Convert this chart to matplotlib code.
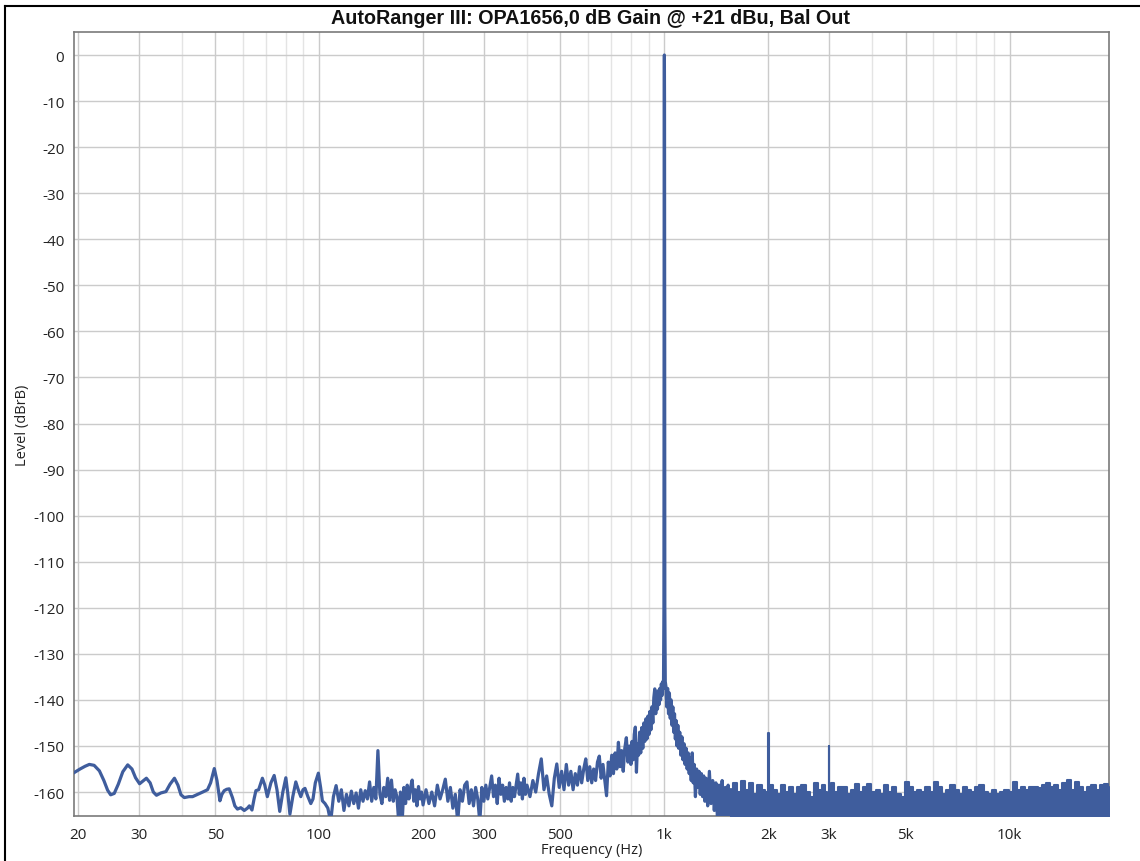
import matplotlib
matplotlib.use("Agg")
import matplotlib.pyplot as plt
from matplotlib.lines import Line2D
import numpy as np

plt.rcParams['font.family'] = ['Open Sans', 'DejaVu Sans']
plt.rcParams['axes.unicode_minus'] = False

TITLE = "AutoRanger III: OPA1656,0 dB Gain @ +21 dBu, Bal Out"
XLABEL = "Frequency (Hz)"
YLABEL = "Level (dBrB)"

x_ticks = [20, 30, 50, 100, 200, 300, 500, 1000, 2000, 3000, 5000, 10000]
x_tick_labels = ["20", "30", "50", "100", "200", "300", "500", "1k", "2k", "3k", "5k", "10k"]
x_minor = [40, 60, 70, 80, 90, 400, 600, 700, 800, 900,
           4000, 6000, 7000, 8000, 9000]
y_ticks = [0, -10, -20, -30, -40, -50, -60, -70, -80, -90, -100, -110,
           -120, -130, -140, -150, -160]
y_tick_labels = ["0", "-10", "-20", "-30", "-40", "-50", "-60", "-70", "-80",
                 "-90", "-100", "-110", "-120", "-130", "-140", "-150", "-160"]

# --- low-frequency part (smooth) ---
lf_freq = [19.5, 20.3, 21.0, 21.6, 22.3, 23.1, 23.8, 24.4, 24.9, 25.5, 26.2, 27.0,
           27.9, 28.7, 29.4, 30.2, 30.9, 31.6, 32.4, 33.1, 33.8, 34.8, 36.0, 37.0,
           38.1, 39.0, 39.8, 40.7, 42.0, 43.0, 44.5, 46.0, 47.5, 48.5, 49.7, 50.6,
           51.6, 52.3, 53.1, 54.0, 54.9, 56.1, 57.0, 58.0, 59.3, 60.7, 62.0, 62.8,
           63.9, 64.8, 65.6, 66.8, 68.5, 69.6, 70.8, 72.5, 74.1, 75.5, 76.9, 78.5,
           80.1, 81.2, 82.3, 83.9, 85.6, 87.0, 88.5, 89.8, 91.0, 92.8, 94.6, 96.0,
           97.5, 99.5, 101.0, 102.2]
lf_level = [-155.8, -155.0, -154.4, -154.0, -154.2, -155.4, -157.5, -159.6, -160.6, -160.3, -158.3, -155.6,
            -154.1, -155.0, -156.9, -158.2, -157.6, -157.0, -158.0, -160.0, -160.7, -160.2, -159.9, -158.3,
            -157.0, -158.5, -160.6, -161.2, -161.0, -161.0, -160.5, -160.0, -159.5, -158.0, -154.9, -157.5,
            -161.9, -160.5, -159.7, -159.4, -159.3, -161.2, -163.0, -163.7, -163.4, -164.0, -163.5, -163.0,
            -163.9, -161.5, -159.7, -159.5, -157.0, -158.5, -161.0, -158.0, -156.4, -159.5, -164.2, -160.0,
            -156.9, -160.5, -164.8, -161.0, -157.8, -159.5, -161.0, -159.5, -159.2, -161.0, -162.5, -161.5,
            -158.0, -155.9, -159.0, -161.9]

# --- 100 Hz to 200 Hz ---
mid1_freq = [104, 106, 108, 110, 112, 114, 116, 118, 120, 122, 124, 126, 128, 130, 132, 134,
             136, 138, 140, 142, 144, 146, 148, 150, 152, 154, 156, 158, 160, 162, 164, 166,
             168, 170, 172, 174, 176, 178, 180, 182, 184, 186, 188, 190, 192, 194, 196, 198, 200]
mid1_level = [-162.5, -163.5, -166.5, -161.0, -158.6, -162.0, -159.5, -164.0, -160.5, -163.0, -159.8, -162.5,
              -160.2, -163.5, -159.5, -162.0, -159.7, -161.5, -157.8, -162.0, -159.0, -161.5, -151.0, -160.5,
              -162.5, -159.0, -161.0, -157.0, -161.8, -157.4, -162.0, -159.5, -161.0, -166.5, -160.0, -166.5,
              -159.0, -162.5, -158.5, -161.5, -159.0, -157.4, -162.0, -159.5, -163.0, -158.8, -161.5, -160.0, -162.8]

# --- 200 Hz to 400 Hz ---
mid2_freq = [204, 208, 212, 216, 220, 224, 228, 232, 236, 240, 244, 248, 252, 256, 260, 264,
             268, 272, 276, 280, 284, 288, 292, 296, 300, 304, 308, 312, 316, 320, 324, 328,
             332, 336, 340, 344, 348, 352, 356, 360, 364, 368, 372, 376, 380, 384, 388, 392, 396, 400]
mid2_level = [-159.5, -162.5, -160.0, -163.0, -158.5, -161.5, -159.5, -157.2, -162.0, -159.0, -163.5, -160.5,
              -166.5, -159.5, -162.0, -158.5, -157.8, -162.5, -159.5, -163.0, -159.0, -161.5, -166.5, -159.0,
              -162.0, -158.5, -161.5, -159.0, -156.5, -161.0, -158.5, -162.5, -157.0, -160.5, -158.5, -162.0,
              -159.0, -161.5, -158.0, -162.0, -159.0, -161.0, -158.5, -156.1, -160.5, -158.0, -161.5, -157.0,
              -160.5, -158.5]

# --- 400 Hz to 800 Hz ---
mid3_freq = [408, 416, 424, 432, 440, 448, 456, 464, 472, 480, 488, 496, 504, 512, 520, 528,
             536, 544, 552, 560, 568, 576, 584, 592, 600, 608, 616, 624, 632, 640, 648, 656,
             664, 672, 680, 688, 696, 704, 712, 720, 728, 736, 744, 752, 760, 768, 776, 784, 792, 800]
mid3_level = [-161.0, -157.5, -160.0, -156.0, -152.8, -159.5, -156.5, -160.5, -163.0, -157.0, -153.9, -159.0,
              -155.5, -159.5, -154.0, -158.5, -155.5, -159.5, -156.0, -158.5, -154.5, -158.0, -155.0, -152.8,
              -157.5, -154.5, -158.0, -155.0, -157.5, -153.5, -152.2, -157.0, -154.0, -157.5, -160.8, -153.5,
              -156.5, -152.0, -156.0, -151.5, -155.0, -149.2, -154.5, -151.0, -155.5, -150.5, -148.2, -153.5,
              -150.0, -154.0]

# --- rising skirt and 1 kHz tone ---
tone_freq = [806, 812, 818, 824, 830, 836, 842, 848, 854, 860, 866, 872, 878, 884, 890, 896,
             902, 908, 914, 920, 926, 932, 938, 944, 950, 955, 960, 965, 970, 975, 980, 985,
             990, 994, 997, 999, 1000, 1001, 1003, 1006]
tone_level = [-149.0, -153.0, -147.5, -145.9, -155.7, -149.5, -152.0, -147.0, -151.5, -146.0, -150.5, -145.0,
              -149.0, -144.1, -148.5, -143.5, -147.5, -142.5, -146.5, -141.5, -145.0, -139.5, -137.6, -143.0,
              -139.0, -142.0, -138.0, -141.0, -137.5, -140.0, -136.5, -139.0, -136.0, -137.5, -120.0, -10.0,
              0.0, -10.0, -120.0, -136.0]

# --- falling skirt ---
skirt_freq = [1010, 1016, 1022, 1028, 1034, 1040, 1046, 1052, 1058, 1064, 1070, 1076, 1082, 1088,
              1094, 1100, 1108, 1116, 1124, 1132, 1140, 1148, 1156, 1164, 1172, 1180, 1188, 1196,
              1204, 1212, 1220, 1230, 1240, 1250, 1260, 1270, 1280, 1290, 1300, 1310, 1320, 1335,
              1350, 1365, 1380, 1395, 1410, 1425, 1440, 1455, 1470, 1485, 1500, 1515, 1530, 1545, 1560]
skirt_level = [-137.0, -141.5, -137.5, -143.0, -138.5, -144.0, -140.0, -145.5, -141.5, -147.0, -143.0, -148.5,
               -144.5, -150.0, -145.5, -150.5, -147.0, -152.0, -148.0, -153.0, -149.5, -154.0, -150.5, -155.0,
               -151.5, -156.0, -152.5, -157.5, -151.5, -158.0, -154.0, -161.0, -155.0, -159.0, -155.5, -160.5,
               -156.0, -161.0, -156.5, -162.0, -157.0, -163.0, -155.5, -162.5, -157.5, -164.0, -158.0, -166.0,
               -158.5, -165.0, -157.5, -166.5, -159.0, -166.5, -158.5, -166.5, -159.5]

# --- dense noise floor above ~1.5 kHz (upper envelope) ---
floor_freq = [1560, 1600, 1645, 1690, 1735, 1785, 1835, 1885, 1940, 1965, 1990, 2000, 2010, 2035,
              2085, 2145, 2205, 2265, 2330, 2395, 2460, 2530, 2600, 2675, 2750, 2825, 2905, 2945,
              2985, 3000, 3015, 3060, 3145, 3235, 3325, 3420, 3515, 3615, 3715, 3820, 3925, 4035,
              4150, 4265, 4385, 4510, 4635, 4765, 4900, 5035, 5180, 5325, 5475, 5625, 5785, 5945,
              6115, 6285, 6460, 6645, 6830, 7020, 7220, 7420, 7630, 7845, 8065, 8290, 8525, 8760,
              9010, 9260, 9520, 9790, 10060, 10345, 10635, 10935, 11240, 11555, 11880, 12215, 12555,
              12910, 13270, 13645, 14025, 14420, 14825, 15240, 15670, 16110, 16560, 17025, 17500,
              17990, 18500, 19000, 19450]
floor_top = [-159.5, -158.0, -160.0, -157.5, -159.5, -158.0, -160.5, -158.5, -159.5, -160.0, -160.5, -147.2,
             -160.5, -158.5, -159.5, -160.5, -158.5, -160.0, -159.0, -160.5, -159.0, -158.5, -160.0, -161.0,
             -158.0, -159.5, -158.5, -160.0, -160.5, -150.0, -160.5, -158.0, -160.0, -159.0, -158.8, -160.5,
             -159.5, -158.3, -160.0, -159.0, -158.2, -160.0, -159.5, -160.5, -158.5, -160.0, -159.0, -160.5,
             -161.0, -157.8, -159.0, -160.0, -159.5, -160.0, -159.0, -160.0, -157.8, -159.0, -160.5, -159.5,
             -158.5, -159.5, -160.5, -159.0, -159.5, -160.0, -159.0, -158.5, -160.0, -160.5, -159.5, -160.5,
             -160.0, -159.5, -160.0, -157.8, -159.5, -159.0, -159.5, -159.0, -158.8, -159.2, -158.5, -158.0,
             -159.0, -158.5, -159.5, -158.0, -157.4, -159.5, -157.8, -159.0, -160.0, -159.0, -158.5, -159.5,
             -158.5, -158.2, -159.0]
floor_bottom = -175.0

LINE_COLOR = "#3f5d9d"

fig = plt.figure(figsize=(11.4, 8.62), dpi=100)
ax = fig.add_axes([74 / 1140, 1 - 817 / 862, (1109 - 74) / 1140, (817 - 33) / 862])

freq = np.concatenate([lf_freq, mid1_freq, mid2_freq, mid3_freq, tone_freq, skirt_freq])
level = np.concatenate([lf_level, mid1_level, mid2_level, mid3_level, tone_level, skirt_level])

ax.plot(freq, level, color=LINE_COLOR, lw=2.3, solid_joinstyle='round', zorder=3)
ax.fill_between(floor_freq, floor_top, floor_bottom, step='mid', facecolor=LINE_COLOR,
                edgecolor=LINE_COLOR, lw=1.5, zorder=3)

ax.set_xscale('log')
ax.set_xlim(19.5, 19400)
ax.set_ylim(-165.2, 5)

ax.set_xticks(x_ticks)
ax.set_xticklabels(x_tick_labels)
ax.set_xticks(x_minor, minor=True)
ax.xaxis.set_minor_formatter(matplotlib.ticker.NullFormatter())
ax.set_yticks(y_ticks)
ax.set_yticklabels(y_tick_labels)

ax.tick_params(axis='both', which='both', length=0, labelsize=11, colors='#222222')
ax.tick_params(axis='x', pad=8)
ax.tick_params(axis='y', pad=7)

ax.grid(True, which='major', axis='both', color='#cbcbcb', lw=1.0, zorder=0)
ax.grid(True, which='minor', axis='x', color='#e4e4e4', lw=1.0, zorder=0)
ax.set_axisbelow(True)

for s in ax.spines.values():
    s.set_color('#7a7a7a')
    s.set_linewidth(1.2)

ax.set_xlabel(XLABEL, fontsize=10.5, labelpad=0, color='#222222')
ax.set_ylabel(YLABEL, fontsize=10.5, labelpad=2, color='#222222')

fig.text(591 / 1140, 1 - 18 / 862, TITLE, ha='center', va='center',
         fontsize=14.2, fontweight='bold', family=['Liberation Sans', 'DejaVu Sans'], color='#111111')

# screenshot frame (left and top edges)
fx = 5 / 1140
fy = 1 - 7 / 862
fig.add_artist(Line2D([fx, fx], [0, fy], transform=fig.transFigure, color='black', lw=1.5))
fig.add_artist(Line2D([fx, 1], [fy, fy], transform=fig.transFigure, color='black', lw=1.5))

fig.savefig("out.png", dpi=100)
